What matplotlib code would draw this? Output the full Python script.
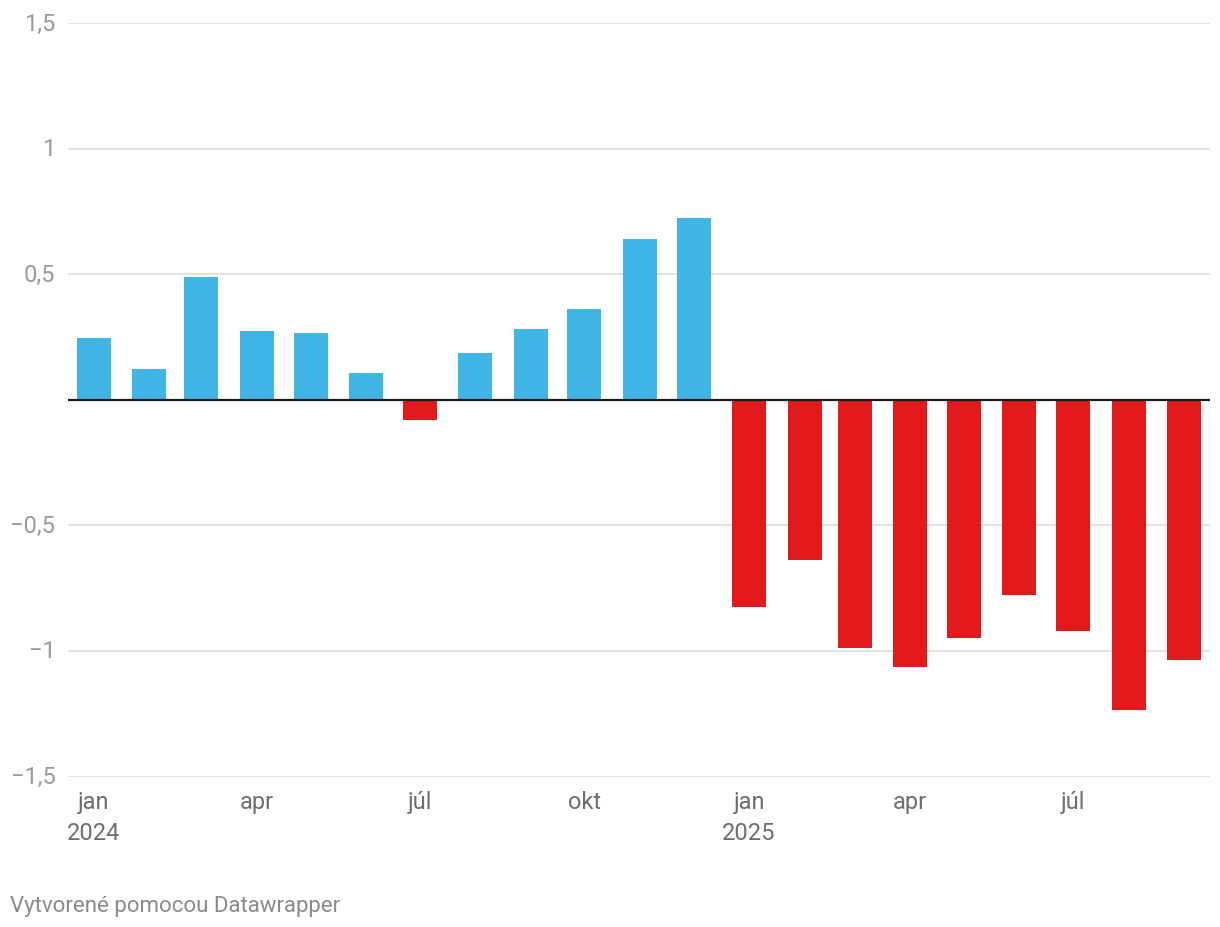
import matplotlib
matplotlib.use("Agg")
import matplotlib.pyplot as plt
import pandas as pd

plt.rcParams['font.family'] = ['Roboto', 'DejaVu Sans']

months = pd.date_range('2024-01-01', '2025-09-01', freq='MS')
values = [0.247, 0.124, 0.49, 0.275, 0.267, 0.108, -0.08, 0.187, 0.283, 0.363, 0.641, 0.725,
          -0.825, -0.637, -0.988, -1.064, -0.948, -0.777, -0.920, -1.235, -1.036]
yticks = [-1.5, -1, -0.5, 0, 0.5, 1, 1.5]
ytick_labels = ['\u22121,5', '\u22121', '\u22120,5', '', '0,5', '1', '1,5']
xtick_dates = ['2024-01-01', '2024-04-01', '2024-07-01', '2024-10-01',
               '2025-01-01', '2025-04-01', '2025-07-01']
xtick_labels = ['jan\n2024', 'apr', 'júl', 'okt', 'jan\n2025', 'apr', 'júl']

blue = '#41b6e6'
red = '#e31a1c'

fig = plt.figure(figsize=(12.2, 9.28), dpi=100)
ax = fig.add_axes([68 / 1220, (928 - 777.5) / 928, (1210 - 68) / 1220, (777.5 - 24) / 928])

colors = [blue if v >= 0 else red for v in values]
ax.bar(months, values, width=19, color=colors, zorder=2)
ax.axhline(0, color='#1a1a1a', lw=1.6, zorder=3)

ax.set_ylim(-1.5, 1.5)
ax.set_xlim(months[0] - pd.Timedelta(days=14.5), months[-1] + pd.Timedelta(days=14.5))
ax.set_yticks(yticks)
ax.set_yticklabels(ytick_labels)
for y in yticks:
    if y != 0:
        ax.axhline(y, color='#e3e3e3', lw=1.4, zorder=1)

ax.set_xticks(pd.to_datetime(xtick_dates))
ax.set_xticklabels(xtick_labels, linespacing=1.4)

for s in ax.spines.values():
    s.set_visible(False)
ax.tick_params(axis='y', length=0, pad=9, labelsize=17, labelcolor='#9a9a9a')
ax.tick_params(axis='x', length=0, pad=10, labelsize=17, labelcolor='#6e6e6e')
for lbl in ax.get_yticklabels():
    lbl.set_verticalalignment('center')

fig.text(10 / 1220, 1 - 912 / 928, 'Vytvorené pomocou Datawrapper', fontsize=16,
         color='#8a8a8a', ha='left', va='baseline')

fig.savefig('out.png', dpi=100, facecolor='white')
